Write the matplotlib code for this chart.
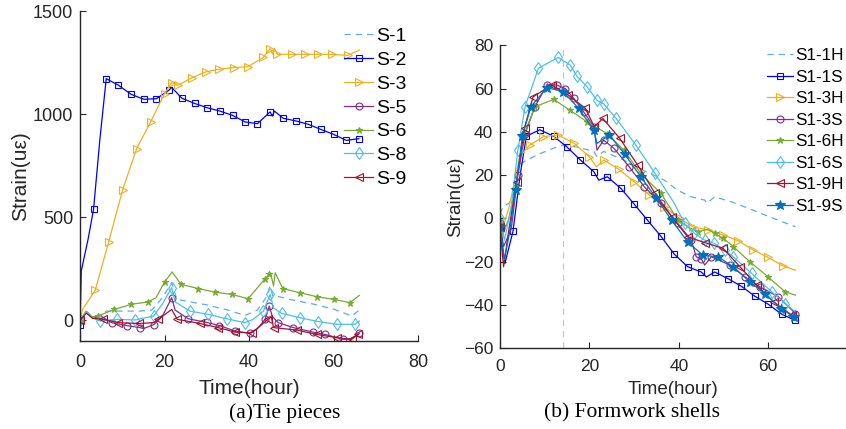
import matplotlib
matplotlib.use('Agg')
import matplotlib.pyplot as plt

plt.rcParams['font.family'] = ['Liberation Sans', 'DejaVu Sans']

# ---------------- (a) Tie pieces ----------------
s1_t = [0, 1.5, 3, 4.5, 6.3, 10, 14, 17, 19.5, 21.7, 22.9, 26, 30, 35, 39, 42, 44, 45, 45.6, 46.5, 50, 55, 60, 64.3, 66.3]
s1_y = [0, 45, 15, 25, 45, 45, 45, 50, 110, 183, 102, 90, 75, 50, 24, 50, 110, 167, 120, 118, 100, 80, 55, 21, 53]

s2_t = [0, 0.3, 1.9, 3.2, 4.7, 6.2, 9.1, 12.1, 15.1, 18.1, 21.1, 21.7, 24.1, 27.1, 30.1, 33.1, 36.1, 39.1, 42.0,
        45.0, 45.5, 46.0, 48.1, 51.1, 54.0, 57.0, 60.0, 63.0, 66.0]
s2_y = [-20, 240, 393, 539, 878, 1172, 1140, 1096, 1072, 1075, 1117, 1130, 1077, 1052, 1031, 1015, 994, 962, 954,
        1011, 990, 1015, 980, 967, 951, 926, 902, 873, 881]

s3_t = [0, 0.6, 3.6, 6.8, 10.1, 13.4, 16.7, 20.0, 21.7, 23.2, 26.5, 29.8, 33.0, 36.4, 39.7, 43.4, 45.0, 45.6, 46.0,
        46.7, 50.1, 53.3, 56.4, 59.6, 63.4, 66.1]
s3_y = [0, 53, 146, 382, 634, 833, 962, 1100, 1153, 1140, 1177, 1205, 1218, 1226, 1230, 1275, 1318, 1290, 1320,
        1290, 1290, 1290, 1290, 1290, 1285, 1311]

s5_t = [0, 1.5, 3, 5, 7.5, 11, 14.2, 15, 17.5, 19.5, 21.7, 22.5, 25.6, 30, 33, 36.7, 40.2, 42, 43.8, 44.8, 45.5,
        46.9, 50.5, 55.2, 58, 62.3, 64, 66.1]
s5_y = [0, 40, 10, 20, -11, -25, -35, -40, -20, 20, 110, 50, 8, -10, -25, -52, -63, -40, 5, 69, 20,
        -11, -35, -57, -68, -92, -90, -63]

s6_t = [0, 1.4, 2.8, 4.2, 8.1, 12.1, 16, 18, 20, 21.8, 23.9, 28, 32, 35.9, 39.8, 43.8, 44.8, 45.1, 45.8, 46.2,
        48, 52.1, 56, 60, 63.9, 66.1]
s6_y = [-3, 45, 18, 21, 53, 78, 89, 110, 186, 235, 175, 154, 137, 126, 105, 202, 223, 230, 167, 231,
        154, 134, 115, 102, 86, 121]

s8_t = [0, 1.5, 3, 4.7, 8.8, 13.1, 17.4, 19.5, 21.7, 22.5, 26, 30.4, 34.7, 39, 41, 43.4, 45, 45.8, 47.7, 52.1,
        56.4, 60.8, 65.1, 66.1]
s8_y = [0, 40, 12, -3, 5, 2, 21, 80, 159, 90, 45, 29, 8, -11, 5, 45, 126, 60, 34, 13, -6, -19, -19, -3]

s9_t = [0, 1.5, 3, 5.5, 9, 14, 17.4, 18.5, 21.7, 23, 28.4, 32.7, 36.7, 40.6, 42.6, 44.6, 45.3, 45.8, 51.3, 56,
        60.8, 64.3, 65.9]
s9_y = [0, 35, 10, 5, -11, -15, -11, 5, 53, 5, -15, -35, -57, -60, -28, 8, 15, -35, -47, -68, -84, -92, -68]

# ---------------- (b) Formwork shells ----------------
h11_t = [0, 0.7, 2, 3, 4.4, 6, 9, 12, 14.2, 17.2, 21, 21.7, 23.2, 27.7, 32.3, 36.8, 39.8, 42.8, 45.8, 46.3, 48,
         51.8, 55.6, 59.3, 63.1, 66.1]
h11_y = [2, 5.5, 7, 10, 25, 27, 30, 32.5, 34, 33, 31, 28.5, 31, 27, 22, 17.7, 13, 10, 8.5, 7, 10,
         7.7, 4.7, 1.6, -1.5, -3.8]

s11_t = [0, 1.1, 2.9, 4.5, 5.9, 8.9, 12, 15, 18, 21, 22.1, 24, 27, 30, 33, 36, 39, 42, 45, 46.2, 48, 51, 54, 57,
         60, 63, 66]
s11_y = [-5.4, -20.8, -6, 20, 38, 41, 38, 33, 27, 21.6, 17.7, 19.3, 14, 6.7, -0.8, -8.2, -16.5, -22.3, -24.7,
         -27, -24.7, -27.8, -31.3, -35.9, -39.6, -44.2, -47]

h13_t = [0, 0.7, 2, 4.4, 6.7, 9.7, 13, 16.6, 20, 21.6, 23.2, 26.6, 30, 33.4, 36.8, 40.2, 43.2, 46.5, 50, 53.3,
         56.7, 60, 63.3, 66.1]
h13_y = [0, -4, 5, 28.5, 34, 37.8, 38.6, 34.7, 28.5, 23.9, 27, 22.7, 17, 10.8, 5.4, 0, -3.9, -5.3, -7.7, -10.3,
         -14.6, -18, -21.9, -23.9]

s13_t = [0, 0.8, 2.5, 4, 5.6, 7.8, 10.5, 12.7, 14.6, 16.5, 18.7, 21, 21.7, 23.2, 25.5, 28.9, 32.3, 36, 39.8,
         42.8, 43.9, 45, 45.8, 47.3, 51.4, 54.8, 58.2, 62.3, 66.1]
s13_y = [-2, -13, -5, 20, 39, 51.6, 61.7, 61.7, 60, 55.5, 49.3, 42.4, 31.6, 36.2, 32.4, 23.9, 14.6, 7, -2.3,
         -10, -17.7, -18.5, -21.5, -17.7, -21.5, -27, -31.6, -36.2, -43.9]

h16_t = [0, 0.5, 2, 3.5, 5.2, 7.8, 12, 15.7, 19.5, 24, 27.7, 31.5, 36, 39.8, 42, 44.3, 46.5, 48, 50, 52.2, 55.9,
         60, 63.8, 66.1]
h16_y = [-2, -8, 0, 15, 37.8, 51.6, 55, 50, 44.6, 39.2, 31.6, 20.8, 11.6, -0.7, -3.9, -6.1, -5, -6.9, -9.2,
         -13, -20, -27, -33.9, -35.4]

s16_t = [0, 1, 2.5, 4, 5.6, 8.6, 13, 15.7, 17.2, 19.5, 21.7, 23.2, 26, 30.4, 34.7, 39, 41.3, 43.5, 45.8, 47.9,
         50.3, 52.2, 56.3, 60.8, 63.8, 66.1]
s16_y = [0, -10, 5, 31.6, 51.6, 69.4, 74.4, 70.9, 65.8, 60.8, 54.6, 53, 46.2, 33.9, 20.8, 7, -2.3, -6.9, -10,
         -11.5, -14.6, -17.7, -25.4, -33.9, -39.3, -43.1]

h19_t = [0, 0.8, 2, 3.7, 5.5, 7.4, 11.6, 15.3, 19.1, 21.1, 23, 26.8, 30.8, 34.7, 38.4, 42, 45.9, 49.9, 53.7,
         57.4, 61.2, 65.3, 66]
h19_y = [-4, -22.3, -5, 17, 42, 56.2, 61.7, 57, 50.9, 42.4, 46.2, 37, 24.7, 11.6, 0.8, -8.5, -11.2, -13.8,
         -22.3, -30.8, -38.5, -44.7, -46]

s19_t = [0, 1, 2, 3.5, 5, 6.9, 10.5, 14.1, 17.6, 21, 21.7, 24.5, 27.9, 31.5, 35, 38.4, 42, 45.4, 48.8, 52.2,
         55.9, 59.3, 62.9, 65.7, 66]
s19_y = [-4, -19, -8, 13, 38, 51.6, 60.5, 58.6, 50.9, 40.8, 34.7, 38.5, 29.7, 19.3, 9.3, -0.8, -10.8, -17,
         -17.7, -22.3, -29.3, -34.7, -41.6, -45.4, -46]

BLUE = '#0000FF'
YEL = '#EDB120'
PUR = '#7E2F8E'
GRN = '#77AC30'
CYA = '#4DBEEE'
RED = '#A2142F'
STL = '#0072BD'
DASH = '#5DADE2'
AXC = '#262626'


def mark_idx(n, skip):
    return [i for i in range(n) if i not in skip]


def draw(ax, t, y, label, color, marker, skip, ms=5, fill=False, ls='-'):
    kw = dict(color=color, lw=0.9, ls=ls, label=label)
    if marker:
        kw.update(marker=marker, markersize=ms, markevery=mark_idx(len(t), skip),
                  markerfacecolor=color if fill else 'none', markeredgecolor=color, markeredgewidth=0.8)
    ax.plot(t, y, **kw)


def style(ax, fs, xpad):
    for s in ['top', 'right']:
        ax.spines[s].set_visible(False)
    for s in ['left', 'bottom']:
        ax.spines[s].set_color(AXC)
        ax.spines[s].set_linewidth(1.0)
    ax.tick_params(direction='in', length=4, colors=AXC, labelsize=fs)
    ax.tick_params(axis='y', pad=5)
    ax.tick_params(axis='x', pad=xpad)


fig = plt.figure(figsize=(8.46, 4.29), dpi=100)

ax1 = fig.add_axes([0.0946, 0.2051, 0.3995, 0.7692])
draw(ax1, s1_t, s1_y, 'S-1', DASH, None, [], ls=(0, (5, 4)))
draw(ax1, s2_t, s2_y, 'S-2', BLUE, 's', [1, 2, 4, 11, 20, 21], ms=4.5)
draw(ax1, s3_t, s3_y, 'S-3', YEL, '>', [1, 17, 18, 25], ms=6)
draw(ax1, s5_t, s5_y, 'S-5', PUR, 'o', [1, 2, 3, 7, 9, 11, 17, 20, 26], ms=5)
draw(ax1, s6_t, s6_y, 'S-6', GRN, '*', [1, 2, 7, 9, 17, 18, 19, 25], ms=5, fill=True)
draw(ax1, s8_t, s8_y, 'S-8', CYA, 'd', [1, 2, 7, 9, 14, 17, 23], ms=6)
draw(ax1, s9_t, s9_y, 'S-9', RED, '<', [1, 2, 6, 8, 14, 16], ms=6)
ax1.set_xlim(0, 80)
ax1.set_ylim(-100, 1500)
ax1.set_xticks([0, 20, 40, 60, 80])
ax1.set_yticks([0, 500, 1000, 1500])
style(ax1, 13, 9)
ax1.set_xlabel('Time(hour)', fontsize=15, color=AXC, labelpad=6)
ax1.set_ylabel('Strain(u\u03b5)', fontsize=15, color=AXC, labelpad=2)
ax1.legend(loc='upper left', bbox_to_anchor=(0.781, 0.95), frameon=False, fontsize=14,
           handlelength=1.5, handletextpad=0.15, labelspacing=0.32, borderaxespad=0, borderpad=0)

ax2 = fig.add_axes([0.591, 0.188, 0.41, 0.7063])
ax2.axvline(14, color='#C8C8C8', lw=0.9, ls=(0, (5, 4)))
draw(ax2, h11_t, h11_y, 'S1-1H', DASH, None, [], ls=(0, (5, 4)))
draw(ax2, s11_t, s11_y, 'S1-1S', BLUE, 's', [1, 3, 10, 19], ms=4.5)
draw(ax2, h13_t, h13_y, 'S1-3H', YEL, '>', [1, 2, 3, 9, 23], ms=6)
draw(ax2, s13_t, s13_y, 'S1-3S', PUR, 'o', [1, 2, 12, 22], ms=5)
draw(ax2, h16_t, h16_y, 'S1-6H', GRN, '*', [1, 2, 14, 16, 23], ms=5, fill=True)
draw(ax2, s16_t, s16_y, 'S1-6S', CYA, 'd', [1, 2, 15, 25], ms=6)
draw(ax2, h19_t, h19_y, 'S1-9H', RED, '<', [1, 2, 22], ms=6)
draw(ax2, s19_t, s19_y, 'S1-9S', STL, '*', [1, 2, 10, 24], ms=7, fill=True)
ax2.set_xlim(0, 77.6)
ax2.set_ylim(-60, 80)
ax2.set_xticks([0, 20, 40, 60])
ax2.set_yticks([-60, -40, -20, 0, 20, 40, 60, 80])
style(ax2, 12.5, 8)
ax2.set_xlabel('Time(hour)', fontsize=13.5, color=AXC, labelpad=5)
ax2.set_ylabel('Strain(u\u03b5)', fontsize=13.5, color=AXC, labelpad=0)
ax2.legend(loc='upper left', bbox_to_anchor=(0.77, 0.99), frameon=False, fontsize=12.3,
           handlelength=1.5, handletextpad=0.15, labelspacing=0.38, borderaxespad=0, borderpad=0)

fig.text(0.337, 0.037, '(a)Tie pieces', fontsize=15.5, family=['Liberation Serif'], ha='center', va='center')
fig.text(0.747, 0.037, '(b) Formwork shells', fontsize=15.5, family=['Liberation Serif'], ha='center', va='center')

fig.savefig('out.png', dpi=100)
